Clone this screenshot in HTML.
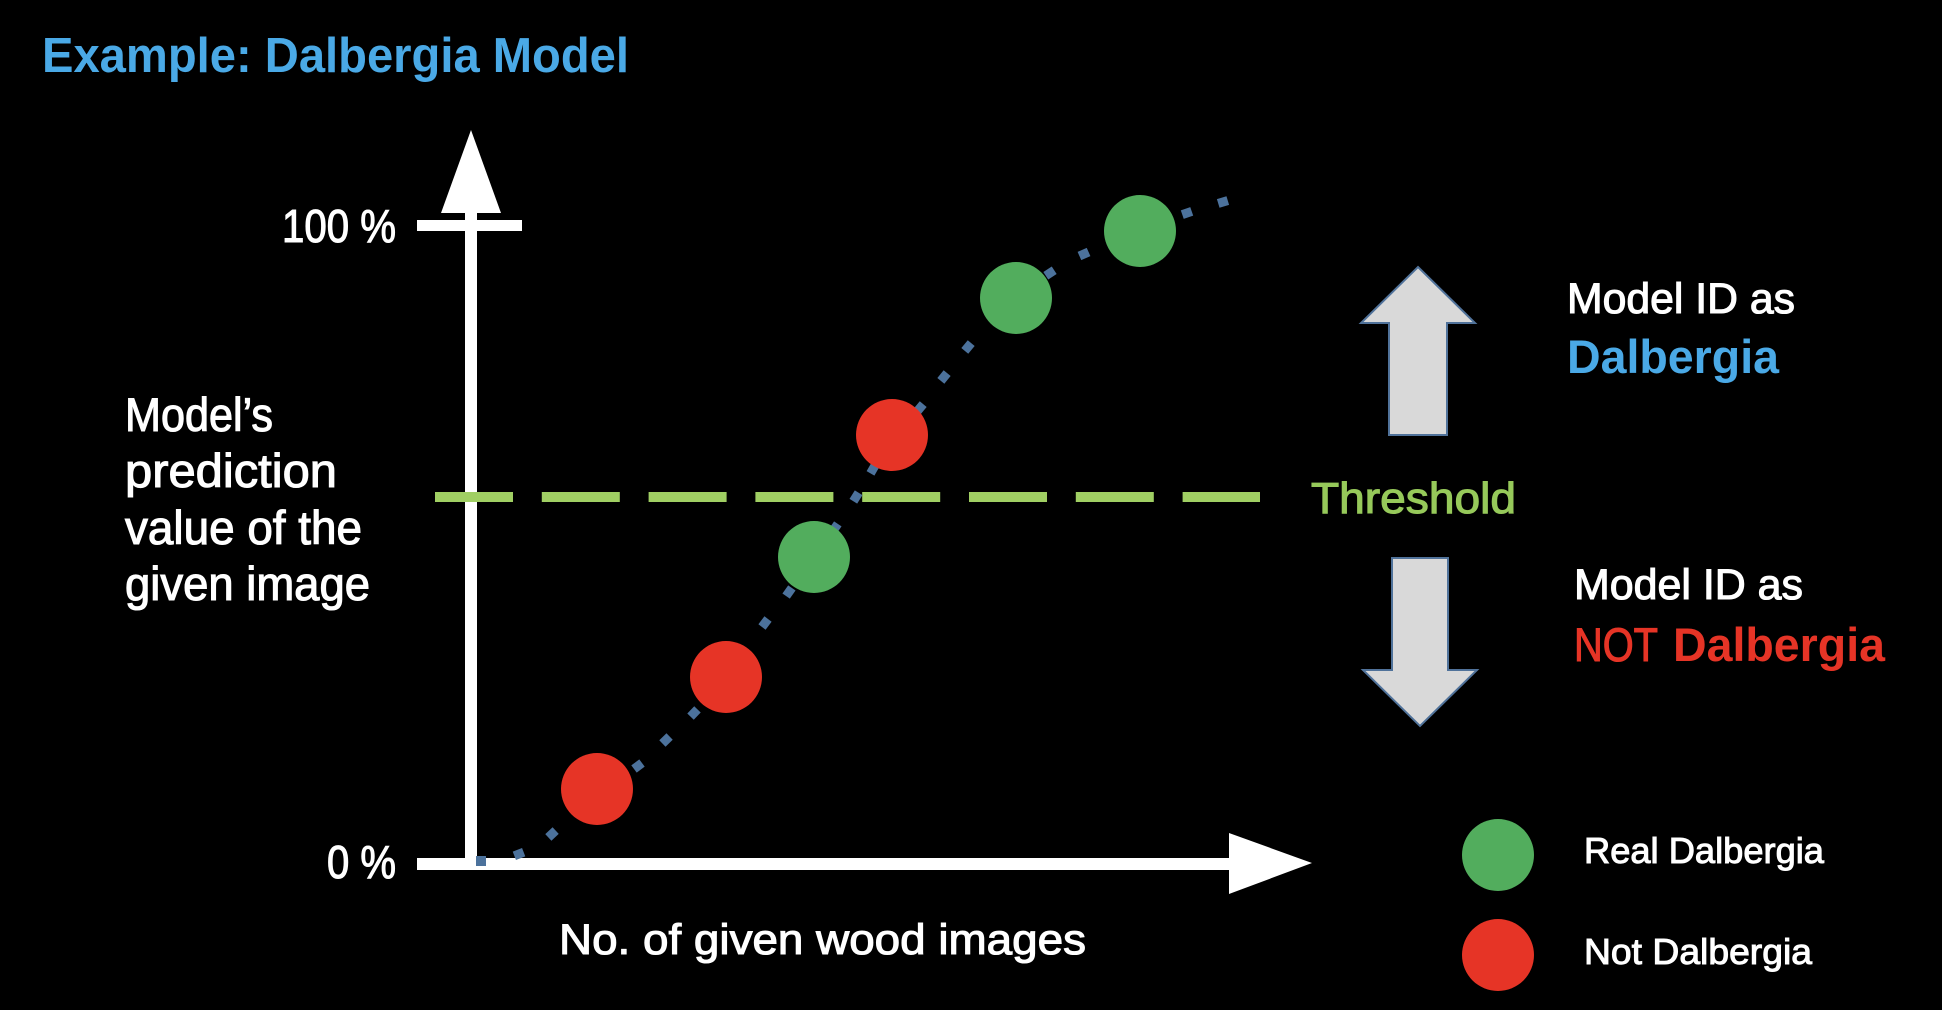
<!DOCTYPE html>
<html>
<head>
<meta charset="utf-8">
<style>
html,body{margin:0;padding:0;background:#000;}
body{width:1942px;height:1010px;overflow:hidden;}
svg{display:block;}
text{font-family:"Liberation Sans",Arial,sans-serif;}
</style>
</head>
<body>
<svg width="1942" height="1010" viewBox="0 0 1942 1010" xmlns="http://www.w3.org/2000/svg">
<rect x="0" y="0" width="1942" height="1010" fill="#000"/>

<!-- Title -->
<text x="42" y="72" font-size="49" font-weight="bold" fill="#4aa9e6" textLength="587" lengthAdjust="spacingAndGlyphs">Example: Dalbergia Model</text>

<!-- Y axis -->
<rect x="465" y="208" width="12" height="662" fill="#fff"/>
<polygon points="471,130 501,213 441,213" fill="#fff"/>
<rect x="417" y="220" width="105" height="11" fill="#fff"/>

<!-- X axis -->
<rect x="417" y="858" width="815" height="12" fill="#fff"/>
<polygon points="1229,833 1312,863 1229,894" fill="#fff"/>

<!-- Axis labels -->
<g fill="#fff" stroke="#fff" stroke-width="1.1">
<text x="282" y="242" font-size="46" textLength="114" lengthAdjust="spacingAndGlyphs">100 %</text>
<text x="327" y="878" font-size="46" textLength="69" lengthAdjust="spacingAndGlyphs">0 %</text>
<text x="125" y="431" font-size="47" textLength="148" lengthAdjust="spacingAndGlyphs">Model’s</text>
<text x="125" y="487" font-size="47" textLength="212" lengthAdjust="spacingAndGlyphs">prediction</text>
<text x="125" y="544" font-size="47" textLength="237" lengthAdjust="spacingAndGlyphs">value of the</text>
<text x="125" y="600" font-size="47" textLength="245" lengthAdjust="spacingAndGlyphs">given image</text>
<text x="559" y="954" font-size="43" textLength="527" lengthAdjust="spacingAndGlyphs">No. of given wood images</text>
</g>

<!-- Threshold dashed line -->
<line x1="435" y1="497" x2="1260" y2="497" stroke="#a0cf63" stroke-width="10" stroke-dasharray="78 28.8"/>

<!-- Dotted trend line (dots) -->
<g fill="#4c729c">
<rect x="476" y="856" width="10" height="10"/>
<rect x="-5" y="-4.5" width="10" height="9" transform="translate(519,854) rotate(-21)"/>
<rect x="-5" y="-4.5" width="10" height="9" transform="translate(552,834) rotate(-43)"/>
<rect x="-5" y="-4.5" width="10" height="9" transform="translate(638,766) rotate(-37)"/>
<rect x="-5" y="-4.5" width="10" height="9" transform="translate(666,740) rotate(-44)"/>
<rect x="-5" y="-4.5" width="10" height="9" transform="translate(694,713) rotate(-46)"/>
<rect x="-5" y="-4.5" width="10" height="9" transform="translate(729,668) rotate(-50)"/>
<rect x="-5" y="-4.5" width="10" height="9" transform="translate(765,623) rotate(-53)"/>
<rect x="-5" y="-4.5" width="10" height="9" transform="translate(789,592) rotate(-55)"/>
<rect x="-5" y="-4.5" width="10" height="9" transform="translate(835,528) rotate(-56)"/>
<rect x="-5" y="-4.5" width="10" height="9" transform="translate(856,497) rotate(-58)"/>
<rect x="-5" y="-4.5" width="10" height="9" transform="translate(873,469) rotate(-60)"/>
<rect x="-5" y="-4.5" width="10" height="9" transform="translate(920,408) rotate(-50)"/>
<rect x="-5" y="-4.5" width="10" height="9" transform="translate(944,377) rotate(-51)"/>
<rect x="-5" y="-4.5" width="10" height="9" transform="translate(968,347) rotate(-50)"/>
<rect x="-5" y="-4.5" width="10" height="9" transform="translate(1050,273) rotate(-33)"/>
<rect x="-5" y="-4.5" width="10" height="9" transform="translate(1084,254) rotate(-24)"/>
<rect x="-5" y="-4.5" width="10" height="9" transform="translate(1187,213) rotate(-19)"/>
<rect x="-5" y="-4.5" width="10" height="9" transform="translate(1223,202) rotate(-17)"/>
</g>

<!-- Data circles -->
<circle cx="597" cy="789" r="36" fill="#e63426"/>
<circle cx="726" cy="677" r="36" fill="#e63426"/>
<circle cx="814" cy="557" r="36" fill="#52ad5d"/>
<circle cx="892" cy="435" r="36" fill="#e63426"/>
<circle cx="1016" cy="298" r="36" fill="#52ad5d"/>
<circle cx="1140" cy="231" r="36" fill="#52ad5d"/>

<!-- Threshold label -->
<text x="1311" y="513" font-size="44" fill="#96c95a" stroke="#96c95a" stroke-width="1.1" textLength="205" lengthAdjust="spacingAndGlyphs">Threshold</text>

<!-- Block arrows -->
<polygon points="1418,267 1475,323 1447,323 1447,435 1389,435 1389,323 1361,323" fill="#d9d9d9" stroke="#50729a" stroke-width="2"/>
<polygon points="1392,558 1448,558 1448,670 1477,670 1420,726 1363,670 1392,670" fill="#d9d9d9" stroke="#50729a" stroke-width="2"/>

<!-- Right labels -->
<g fill="#fff" stroke="#fff" stroke-width="1.1">
<text x="1567" y="313" font-size="43" textLength="228" lengthAdjust="spacingAndGlyphs">Model ID as</text>
<text x="1574" y="599" font-size="43" textLength="229" lengthAdjust="spacingAndGlyphs">Model ID as</text>
</g>
<text x="1567" y="373" font-size="47" font-weight="bold" fill="#4aa9e6" textLength="212" lengthAdjust="spacingAndGlyphs">Dalbergia</text>
<text x="1574" y="661" font-size="47" fill="#e63426" stroke="#e63426" stroke-width="1.1" textLength="84" lengthAdjust="spacingAndGlyphs">NOT</text>
<text x="1673" y="661" font-size="47" font-weight="bold" fill="#e63426" textLength="212" lengthAdjust="spacingAndGlyphs">Dalbergia</text>

<!-- Legend -->
<circle cx="1498" cy="855" r="36" fill="#52ad5d"/>
<circle cx="1498" cy="955" r="36" fill="#e63426"/>
<g fill="#fff" stroke="#fff" stroke-width="1.0">
<text x="1584" y="863" font-size="36" textLength="240" lengthAdjust="spacingAndGlyphs">Real Dalbergia</text>
<text x="1584" y="964" font-size="36" textLength="228" lengthAdjust="spacingAndGlyphs">Not Dalbergia</text>
</g>
</svg>
</body>
</html>
